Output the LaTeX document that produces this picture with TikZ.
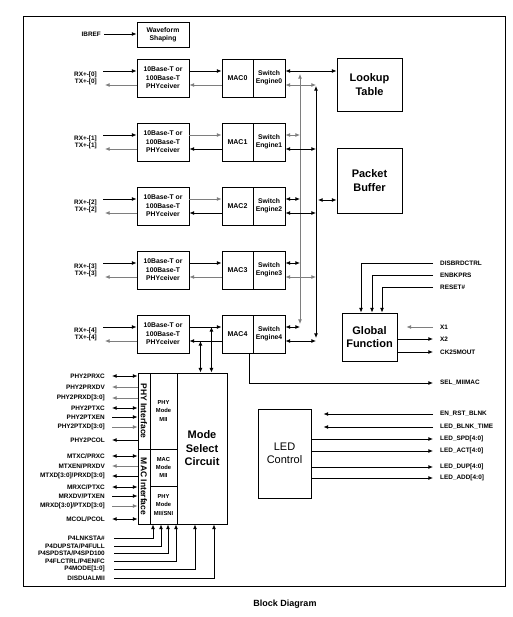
\documentclass[tikz,border=0pt]{standalone}
\usepackage{fontspec}
\setmainfont{Liberation Sans}
\usetikzlibrary{arrows.meta,calc,positioning}
\definecolor{WireGray}{HTML}{7E7E7E}
\definecolor{FrameLine}{HTML}{000000}

\tikzset{
  >={Latex[length=4.6pt,width=4pt]},
  blockbox/.style={draw,line width=0.9pt,inner sep=0pt,align=center,
    font=\bfseries\fontsize{6.8}{8.4}\selectfont},
  bigbox/.style={blockbox,font=\bfseries\fontsize{11}{13.5}\selectfont},
  modecell/.style={blockbox,font=\bfseries\fontsize{5.8}{8.2}\selectfont},
  sigtxt/.style={inner sep=0pt,font=\bfseries\fontsize{6.4}{7}\selectfont},
  wire/.style={line width=0.85pt},
}

\begin{document}
\begin{tikzpicture}[x=1pt,y=-1pt]
  \useasboundingbox (0,0) rectangle (512,617);
  \draw[FrameLine,line width=0.9pt] (23,16) rectangle (505,586);

  % waveform shaping
  \node[blockbox,minimum width=52pt,minimum height=25pt] (wave) at (163,34.5) {Waveform\\Shaping};
  \node[sigtxt,anchor=east] (ibref) at (101,34) {IBREF};
  \coordinate (ibsrc) at (104,34);
  \draw[wire,->] (ibsrc) -- (ibsrc -| wave.west);

  % five ports
  \foreach \i/\t/\ca/\cb in {0/59/black/WireGray,1/123/WireGray/black,2/187/WireGray/black,3/251/black/WireGray,4/315/black/black} {
    \node[blockbox,minimum width=52pt,minimum height=38pt] (phy\i) at (163,\t+19) {10Base-T or\\100Base-T\\PHYceiver};
    \node[blockbox,minimum width=31pt,minimum height=38pt,font=\bfseries\fontsize{7}{8}\selectfont] (mac\i) at (237.5,\t+19) {MAC\i};
    \node[blockbox,minimum width=32pt,minimum height=38pt] (sw\i) at (269,\t+19) {Switch\\Engine\i};
    \node[sigtxt,anchor=east] (rx\i) at (97,\t+15.5) {RX+-[\i]};
    \node[sigtxt,anchor=east] (tx\i) at (97,\t+22.5) {TX+-[\i]};
    \coordinate (rxin\i) at (103,\t+12);
    \coordinate (txout\i) at (105,\t+26);
    \coordinate (swU\i) at ($(sw\i.east)+(0,-7)$);
    \coordinate (swD\i) at ($(sw\i.east)+(0,7)$);
    \draw[wire,->] (rxin\i) -- (rxin\i -| phy\i.west);
    \draw[wire,->,WireGray] (txout\i -| phy\i.west) -- (txout\i);
    \draw[wire,->,\ca] ($(phy\i.east)+(0,-7)$) -- ($(mac\i.west)+(0,-7)$);
    \draw[wire,->,\cb] ($(mac\i.west)+(0,7)$) -- ($(phy\i.east)+(0,7)$);
  }

  % lookup / buffer
  \node[bigbox,minimum width=65pt,minimum height=53pt] (lookup) at (369.5,84.5) {Lookup\\Table};
  \node[bigbox,minimum width=65pt,minimum height=65pt] (packet) at (369.5,180.5) {Packet\\Buffer};

  % buses
  \coordinate (busAtop) at (300,74);
  \coordinate (busAbot) at (300,324);
  \coordinate (busBtop) at (316,86);
  \coordinate (busBbot) at (316,338);
  \draw[wire,<->,WireGray] (busAtop) -- (busAbot);
  \draw[wire,<->] (busBtop) -- (busBbot);
  \draw[wire,<->] (swU0) -- (swU0 -| lookup.west);
  \draw[wire,<->,WireGray] (swD0) -- (swD0 -| busBtop);
  \foreach \i/\c in {1/WireGray,2/black,3/black,4/black}
    \draw[wire,<->,\c] (swU\i) -- (swU\i -| busAtop);
  \foreach \i/\c in {1/black,2/black,3/WireGray,4/black}
    \draw[wire,<->,\c] (swD\i) -- (swD\i -| busBtop);
  \coordinate (pbtap) at (318,200);
  \draw[wire,<->] (pbtap) -- (pbtap -| packet.west);

  % global function
  \node[bigbox,minimum width=55pt,minimum height=48pt] (glob) at (369.5,337) {Global\\Function};
  \foreach \k/\n/\y/\x in {1/DISBRDCTRL/263/361,2/ENBKPRS/275/372,3/RESET\#/287/382} {
    \node[sigtxt,anchor=west] (gin\k) at (440,\y) {\n};
    \coordinate (gsrc\k) at (433,\y);
    \draw[wire,->] (gsrc\k) -| (\x,0 |- glob.north);
  }
  \node[sigtxt,anchor=west] (x1) at (440,327) {X1};
  \coordinate (x1src) at (433,327);
  \draw[wire,->,WireGray] (x1src) -- ($(glob.east |- x1src)+(9,0)$);
  \foreach \k/\n/\y in {2/X2/339,3/CK25MOUT/352} {
    \node[sigtxt,anchor=west] (gout\k) at (440,\y) {\n};
    \coordinate (gdst\k) at (433,\y);
    \draw[wire,->] (glob.east |- gdst\k) -- (gdst\k);
  }

  % SEL_MIIMAC
  \node[sigtxt,anchor=west] (sel) at (440,383) {SEL\_MIIMAC};
  \coordinate (selend) at (433,383);
  \draw[wire,->] (249,0 |- mac4.south) |- (selend);

  % LED control
  \node[blockbox,minimum width=53pt,minimum height=89pt,font=\fontsize{11}{12.5}\selectfont] (led) at (284.5,453.5) {LED\\Control};
  \foreach \k/\n/\y in {1/EN\_RST\_BLNK/414,2/LED\_BLNK\_TIME/427} {
    \node[sigtxt,anchor=west] (lin\k) at (440,\y) {\n};
    \coordinate (lsrc\k) at (433,\y);
    \draw[wire,->] (lsrc\k) -- ($(led.east |- lsrc\k)+(12,0)$);
  }
  \foreach \k/\n/\y in {1/LED\_SPD[4:0]/439,2/LED\_ACT[4:0]/451,3/LED\_DUP[4:0]/467,4/LED\_ADD[4:0]/478} {
    \node[sigtxt,anchor=west] (lout\k) at (440,\y) {\n};
    \coordinate (ldst\k) at (433,\y);
    \draw[wire,->] (led.east |- ldst\k) -- (ldst\k);
  }

  % mode select circuit
  \node[bigbox,minimum width=50pt,minimum height=151pt] (msc) at (202,448.5) {Mode\\Select\\Circuit};
  \node[modecell,minimum width=12pt,minimum height=76pt,font=\bfseries\fontsize{8.5}{9}\selectfont] (phyif) at (144,411) {\rotatebox{-90}{PHY Interface}};
  \node[modecell,minimum width=12pt,minimum height=75pt,font=\bfseries\fontsize{8.5}{9}\selectfont] (macif) at (144,486.5) {\rotatebox{-90}{MAC Interface}};
  \node[modecell,minimum width=27pt,minimum height=76pt] (phymii) at (163.5,411) {PHY\\Mode\\MII};
  \node[modecell,minimum width=27pt,minimum height=37pt] (macmii) at (163.5,467.5) {MAC\\Mode\\MII};
  \node[modecell,minimum width=27pt,minimum height=38pt] (physni) at (163.5,505) {PHY\\Mode\\MII/SNI};

  \coordinate (tapU) at ($(phy4.east)+(22,-7)$);
  \coordinate (tapD) at ($(phy4.east)+(11,7)$);
  \draw[wire,<->] (tapU) -- (tapU |- msc.north);
  \draw[wire,<->] (tapD) -- (tapD |- msc.north);

  \foreach \n/\y/\a/\c in {PHY2PRXC/376/<->/black,PHY2PRXDV/387/<-/WireGray,PHY2PRXD[3:0]/398/<-/WireGray,
      PHY2PTXC/408/<->/black,PHY2PTXEN/417/->/black,PHY2PTXD[3:0]/427/->/WireGray,PHY2PCOL/440/<-/black,
      {MTXC/PRXC}/456/<->/black,{MTXEN/PRXDV}/466/<-/WireGray,{MTXD[3:0]/PRXD[3:0]}/476/<-/black,
      {MRXC/PTXC}/487/<->/black,{MRXDV/PTXEN}/496/->/black,{MRXD[3:0]/PTXD[3:0]}/506/->/WireGray,
      {MCOL/PCOL}/519/<->/black} {
    \node[sigtxt,anchor=east] (ms\y) at (105,\y) {\n};
    \coordinate (msin\y) at (112,\y);
    \draw[wire,\a,\c] (msin\y) -- (msin\y -| phyif.west);
  }

  \foreach \k/\n/\y/\x in {1/P4LNKSTA\#/538/153,2/{P4DUPSTA/P4FULL}/546/161,3/{P4SPDSTA/P4SPD100}/553/168,
      4/{P4FLCTRL/P4ENFC}/561/176,5/P4MODE[1:0]/569/195,6/DISDUALMII/578/214} {
    \node[sigtxt,anchor=east] (bin\k) at (105,\y) {\n};
    \coordinate (bsrc\k) at (114,\y);
    \draw[wire,->] (bsrc\k) -| (\x,0 |- msc.south);
  }

  \node[font=\bfseries\fontsize{9}{10}\selectfont] (caption) at (285,604) {Block Diagram};
\end{tikzpicture}
\end{document}
